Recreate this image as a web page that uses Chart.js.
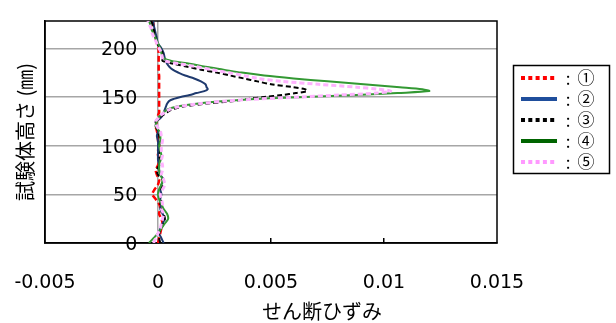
<!DOCTYPE html>
<html>
<head>
<meta charset="utf-8">
<script src="https://cdn.jsdelivr.net/npm/chart.js@4.4.1/dist/chart.umd.min.js"></script>
<style>
  html, body { margin: 0; padding: 0; background: #fff; }
</style>
</head>
<body>
<canvas id="shearChart" width="616" height="323"></canvas>
<script>
// 試験体高さ (mm) - shared by every series
const heights = [0, 5, 10, 15, 20, 25, 30, 35, 40, 45, 50, 55, 60, 65, 70, 75, 80, 85, 90, 95,
  100, 105, 110, 115, 120, 125, 128, 131, 134, 137, 140, 143, 146, 148, 150, 152, 154, 156, 158, 160,
  163, 166, 169, 172, 175, 178, 181, 184, 187, 190, 195, 200, 205, 210, 215, 220, 225, 228];

// せん断ひずみ, one value per height
const strain1 = [0, 0.00005, 0.0001, 0.00015, 0.0002, 0.00015, 0.00005, 0.0001, 0.00005, -0.0001,
  -0.00025, -0.00015, 0, 0.00005, -0.00005, -0.0001, 0, 0.00005, 0, 0,
  0.00005, 0, 0, -0.00005, -0.0001, -0.00005, 0, 0, 0.00005, 0.00005,
  0.00005, 0.00005, 0.00005, 0.00005, 0.00005, 0.00005, 0.00005, 0.00005, 0.00005, 0.00005,
  0.00005, 0.00005, 0.00005, 0.00005, 0.00003, 0.00003, 0.00003, 0.00003, 0.00003, 0.00003,
  0.00003, 0.00002, -0.00005, -0.0001, -0.00015, -0.0002, -0.0002, -0.00025];
const strain2 = [0.00025, 0.00015, 0.00005, 0.0001, 0.0002, 0.0003, 0.0002, 0.0001, 0.00015, 0.0001,
  0.00015, 0.0001, 0.00015, 0.00025, 0.0001, 0.00005, 0.00005, 0, 0, 0,
  0, 0, -0.00005, 0, -0.0001, -0.00005, 0.0001, 0.0002, 0.00025, 0.0003,
  0.00035, 0.0004, 0.0005, 0.0007, 0.001, 0.0014, 0.0017, 0.00205, 0.0022, 0.00215,
  0.0021, 0.0019, 0.0016, 0.0012, 0.0009, 0.00065, 0.0005, 0.0004, 0.00035, 0.0003,
  0.00025, 0.00015, 0, -0.00005, -0.0001, -0.00015, -0.0002, -0.0002];
const strain3 = [0.0001, 0.00005, 0.00005, 0.00015, 0.00025, 0.0003, 0.00025, 0.00015, 0.0001, 0.00015,
  0.00005, 0.0001, 0.00025, 0.0002, 0, -0.00005, 0.00005, 0.0001, 0.00005, 0.0001,
  0.00005, 0.0001, 0.00005, 0, -0.0001, -0.0001, 0, 0.0002, 0.0004, 0.0006,
  0.0011, 0.0021, 0.0034, 0.004, 0.0047, 0.0055, 0.0061, 0.0066, 0.0065, 0.006,
  0.005, 0.0044, 0.0038, 0.0032, 0.0026, 0.0019, 0.0013, 0.0007, 0.0002, 0.0002,
  0.0002, 0.0001, -0.00005, -0.0001, -0.00015, -0.0002, -0.00025, -0.0003];
const strain4 = [-0.0004, -0.0002, 0, 0.00015, 0.0003, 0.00045, 0.0004, 0.00025, 0.00015, 0.00005,
  0, 0.00005, 0.00015, 0.0002, 0.0001, 0.00005, 0.00005, 0.0001, 0.00015, 0.0001,
  0.00005, 0.0001, 0.0001, 0.00005, -0.0001, -0.00005, 0, 0.0001, 0.00025, 0.0004,
  0.0008, 0.0017, 0.0031, 0.0043, 0.0065, 0.0088, 0.0106, 0.012, 0.0117, 0.0107,
  0.0091, 0.0075, 0.006, 0.0047, 0.0037, 0.0029, 0.0021, 0.0014, 0.0006, 0.00025,
  0.00015, 0.0001, 0, -0.0001, -0.0002, -0.0003, -0.00035, -0.0004];
const strain5 = [-0.0002, -0.0001, 0, 0.0001, 0.00015, 0.0002, 0.00025, 0.00015, 0.0002, 0.00015,
  0.0001, 0.0002, 0.0003, 0.00025, 0.00015, 0.0002, 0.0002, 0.00015, 0.0002, 0.00015,
  0.00015, 0.0002, 0.00015, 0.0001, -0.00005, -0.0001, 0, 0.0001, 0.0003, 0.0005,
  0.0009, 0.0018, 0.0031, 0.0045, 0.0063, 0.008, 0.0097, 0.0103, 0.0097, 0.0088,
  0.0071, 0.0055, 0.0044, 0.0038, 0.0031, 0.0024, 0.0017, 0.001, 0.0003, 0.0002,
  0.00015, 0.00005, -0.00005, -0.00015, -0.00025, -0.0003, -0.0004, -0.00045];

const seriesNames = [': ①', ': ②', ': ③', ': ④', ': ⑤'];
const xTicks = [-0.005, 0, 0.005, 0.01, 0.015];
const yTicks = [0, 50, 100, 150, 200];

function toPoints(values) {
  return values.map((v, i) => ({ x: v, y: heights[i] }));
}

const frameAndLegend = {
  id: 'frameAndLegend',
  beforeDatasetsDraw(chart) {
    const a = chart.chartArea;
    const ctx = chart.ctx;
    ctx.save();
    ctx.strokeStyle = '#000';
    ctx.lineWidth = 1.5;
    ctx.strokeRect(a.left, a.top, a.right - a.left, a.bottom - a.top);
    ctx.restore();
  },
  afterDraw(chart) {
    const ctx = chart.ctx;
    ctx.save();
    // axis titles
    ctx.fillStyle = '#000';
    ctx.textAlign = 'center';
    ctx.textBaseline = 'middle';
    ctx.font = '20px "Noto Sans CJK JP"';
    ctx.fillText('せん断ひずみ', 322, 311);
    ctx.save();
    ctx.translate(25, 132);
    ctx.rotate(-Math.PI / 2);
    ctx.font = '20px "Noto Sans CJK JP"';
    ctx.fillText('試験体高さ (㎜)', 0, 0);
    ctx.restore();

    // legend box
    ctx.strokeStyle = '#000';
    ctx.lineWidth = 1.5;
    ctx.strokeRect(513.5, 65.5, 96, 108);
    chart.data.datasets.forEach((ds, i) => {
      const y = 78 + i * 21;
      ctx.strokeStyle = ds.legendColor;
      ctx.lineWidth = 4;
      ctx.setLineDash(ds.legendDash);
      ctx.beginPath();
      ctx.moveTo(521, y);
      ctx.lineTo(557, y);
      ctx.stroke();
      ctx.setLineDash([]);
      const parts = ds.label.split(' ');
      ctx.fillStyle = '#000';
      ctx.font = '17px "Noto Sans CJK JP"';
      ctx.fillText(parts[0], 568, y + 1);
      ctx.fillText(parts[1], 586, y);
    });
    ctx.restore();
  }
};

new Chart(document.getElementById('shearChart'), {
  type: 'scatter',
  data: {
    datasets: [
      { label: seriesNames[0], data: toPoints(strain1), borderColor: '#ff0000', borderWidth: 2.5,
        borderDash: [6, 3], legendColor: '#ff0000', legendDash: [4, 3.3], order: 5 },
      { label: seriesNames[1], data: toPoints(strain2), borderColor: '#1f3a6e', borderWidth: 2,
        borderDash: [], legendColor: '#1f4e9c', legendDash: [], order: 4 },
      { label: seriesNames[2], data: toPoints(strain3), borderColor: '#000000', borderWidth: 2,
        borderDash: [5, 3], legendColor: '#000000', legendDash: [4, 3.3], order: 3 },
      { label: seriesNames[3], data: toPoints(strain4), borderColor: '#339933', borderWidth: 2,
        borderDash: [], legendColor: '#006400', legendDash: [], order: 2 },
      { label: seriesNames[4], data: toPoints(strain5), borderColor: '#ffb3ff', borderWidth: 3,
        borderDash: [5, 3], legendColor: '#ff99ff', legendDash: [4, 3.3], order: 1 }
    ]
  },
  options: {
    responsive: false,
    devicePixelRatio: 1,
    animation: false,
    showLine: true,
    elements: {
      point: { radius: 0 },
      line: { tension: 0.3, fill: false }
    },
    layout: { padding: { left: 0, right: 119, top: 21, bottom: 0 } },
    plugins: { legend: { display: false }, tooltip: { enabled: false } },
    scales: {
      x: {
        type: 'linear',
        position: 'bottom',
        min: -0.005,
        max: 0.015,
        afterBuildTicks: (s) => { s.ticks = xTicks.map(v => ({ value: v })); },
        afterFit: (s) => { s.height = 80; s.paddingLeft = 0; s.paddingRight = 0; },
        ticks: {
          color: '#000',
          font: { family: 'DejaVu Sans', size: 19 },
          padding: 34,
          maxRotation: 0,
          callback: (v) => String(v)
        },
        grid: {
          color: (c) => (c.tick && c.tick.value === 0 ? '#a6a6a6' : 'rgba(0,0,0,0)'),
          tickColor: (c) => (c.tick && (c.tick.value === 0.005 || c.tick.value === 0.01) ? '#000' : 'rgba(0,0,0,0)'),
          tickLength: -5,
          lineWidth: 1.5
        },
        border: { display: true, color: '#000', width: 1.5 }
      },
      y: {
        type: 'linear',
        position: 'left',
        min: 0,
        max: 228,
        afterBuildTicks: (s) => { s.ticks = yTicks.map(v => ({ value: v })); },
        afterFit: (s) => { s.width = 45; s.paddingTop = 0; s.paddingBottom = 0; },
        ticks: {
          color: '#000',
          font: { family: 'DejaVu Sans', size: 19 },
          mirror: true,
          crossAlign: 'far',
          padding: 56,
          labelOffset: 2
        },
        grid: {
          color: (c) => (c.tick && c.tick.value === 0 ? 'rgba(0,0,0,0)' : '#a6a6a6'),
          drawTicks: false,
          lineWidth: 1.5
        },
        border: { display: true, color: '#000', width: 1.5 }
      }
    }
  },
  plugins: [frameAndLegend]
});
</script>
</body>
</html>
